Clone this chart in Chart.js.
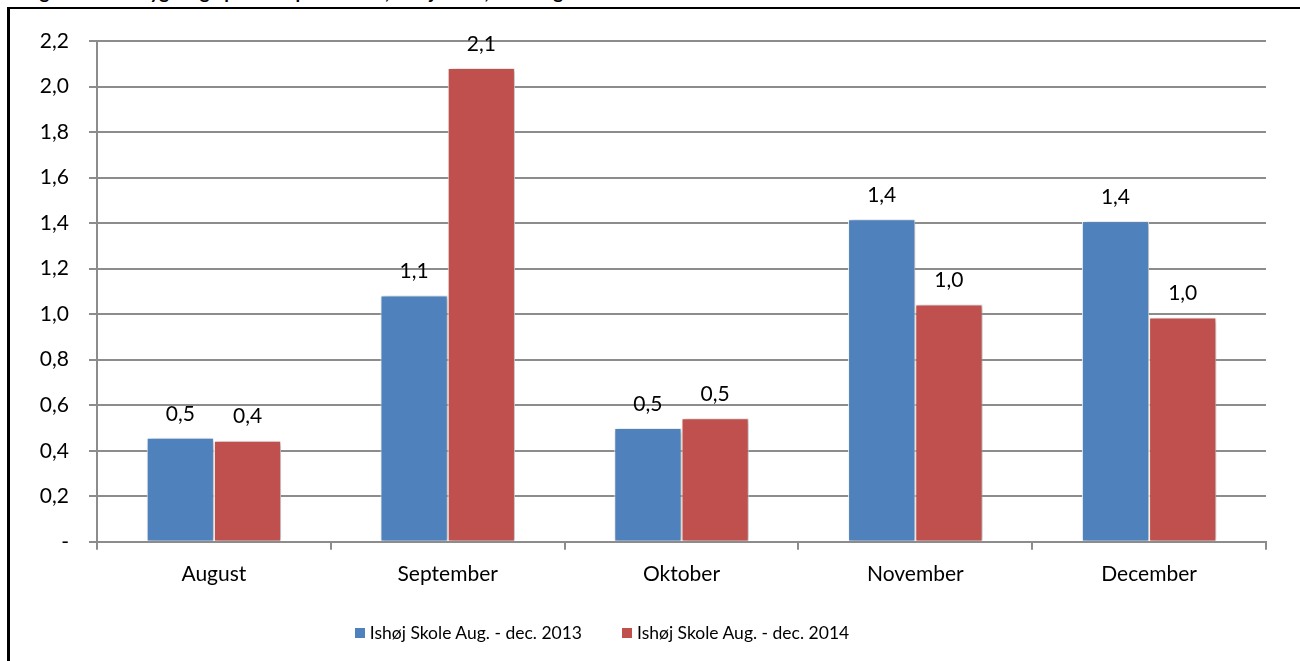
<!DOCTYPE html>
<html>
<head>
<meta charset="utf-8">
<script src="https://cdn.jsdelivr.net/npm/chart.js@4.4.1/dist/chart.umd.min.js"></script>
<style>
  html, body { margin: 0; padding: 0; background: #fff; overflow: hidden; }
  body { width: 1300px; height: 661px; position: relative; }
  #title { position: absolute; left: 24px; top: -20px; line-height: 22px; font: bold 19px Lato, "Open Sans", sans-serif; color: #000; white-space: nowrap; }
  #frame { position: absolute; left: 7px; top: 7px; width: 1300px; height: 700px; border-left: 3px solid #000; border-top: 2px solid #000; }
  #wrap { position: absolute; left: 0; top: 0; width: 1300px; height: 661px; }
  #legend { position: absolute; top: 622px; left: 0; width: 1204px; display: flex; justify-content: center; gap: 40px; font: 17.5px Lato, "Open Sans", sans-serif; color: #000; }
  #legend .item { display: flex; align-items: center; white-space: nowrap; }
  #legend .sw { width: 10px; height: 10px; margin-right: 5px; display: inline-block; }
</style>
</head>
<body>
<div id="title">Figur 3: Antal sygedage per elev per måned, Ishøj Skole, 2013 og 2014</div>
<div id="frame"></div>
<div id="wrap"><canvas id="c" width="1300" height="661"></canvas></div>
<div id="legend"></div>
<script>
const categories = ["August", "September", "Oktober", "November", "December"];
const series2013 = [0.457, 1.082, 0.500, 1.417, 1.408];
const series2014 = [0.444, 2.081, 0.543, 1.043, 0.985];
const seriesNames = ["Ishøj Skole Aug. - dec. 2013", "Ishøj Skole Aug. - dec. 2014"];
const seriesColors = ["#4F81BD", "#C0504D"];
const yTicks = [0, 0.2, 0.4, 0.6, 0.8, 1.0, 1.2, 1.4, 1.6, 1.8, 2.0, 2.2];

const FONT = "Lato, 'Open Sans', sans-serif";
const fmt = v => v.toFixed(1).replace(".", ",");

const shadowPlugin = {
  id: "barShadow",
  beforeDatasetsDraw(chart) {
    const ctx = chart.ctx;
    ctx.save();
    ctx.shadowColor = "rgba(0,0,0,0.35)";
    ctx.shadowBlur = 5;
    ctx.shadowOffsetX = 2;
    ctx.shadowOffsetY = 1;
  },
  afterDatasetsDraw(chart) {
    chart.ctx.restore();
  }
};

const labelPlugin = {
  id: "valueLabels",
  afterDatasetsDraw(chart) {
    const ctx = chart.ctx;
    ctx.save();
    ctx.font = "21px " + FONT;
    ctx.fillStyle = "#000";
    ctx.textAlign = "center";
    ctx.textBaseline = "middle";
    chart.data.datasets.forEach((ds, di) => {
      chart.getDatasetMeta(di).data.forEach((bar, i) => {
        ctx.fillText(fmt(ds.data[i]), bar.x, bar.y - 24);
      });
    });
    ctx.restore();
  }
};

const chart = new Chart(document.getElementById("c"), {
  type: "bar",
  data: {
    labels: categories,
    datasets: [
      { label: seriesNames[0], data: series2013, backgroundColor: seriesColors[0], borderColor: "#ffffff", borderWidth: 1 },
      { label: seriesNames[1], data: series2014, backgroundColor: seriesColors[1], borderColor: "#ffffff", borderWidth: 1 }
    ]
  },
  options: {
    responsive: false,
    animation: false,
    devicePixelRatio: 1,
    layout: { padding: { top: 41, right: 34, bottom: 62, left: 0 } },
    datasets: { bar: { categoryPercentage: 0.575, barPercentage: 1.0 } },
    plugins: {
      legend: { display: false },
      tooltip: { enabled: false }
    },
    scales: {
      x: {
        grid: { drawOnChartArea: false, drawTicks: true, tickLength: 8, color: "#8c8c8c", lineWidth: 2 },
        border: { color: "#8c8c8c", width: 2 },
        ticks: { font: { family: FONT, size: 21 }, color: "#000", padding: 12 }
      },
      y: {
        min: 0,
        max: 2.2,
        afterBuildTicks(scale) { scale.ticks = yTicks.map(v => ({ value: v })); },
        afterFit(scale) { scale.width = 97; },
        grid: { color: "#8c8c8c", lineWidth: 2, tickLength: 8, drawTicks: true },
        border: { color: "#8c8c8c", width: 2 },
        ticks: {
          font: { family: FONT, size: 21 },
          color: "#000",
          padding: 20,
          callback: v => (v === 0 ? "-" : fmt(v))
        }
      }
    }
  },
  plugins: [shadowPlugin, labelPlugin]
});

const legend = document.getElementById("legend");
chart.data.datasets.forEach((ds, i) => {
  const item = document.createElement("span");
  item.className = "item";
  const sw = document.createElement("span");
  sw.className = "sw";
  sw.style.background = seriesColors[i];
  item.appendChild(sw);
  item.appendChild(document.createTextNode(seriesNames[i]));
  legend.appendChild(item);
});
</script>
</body>
</html>
